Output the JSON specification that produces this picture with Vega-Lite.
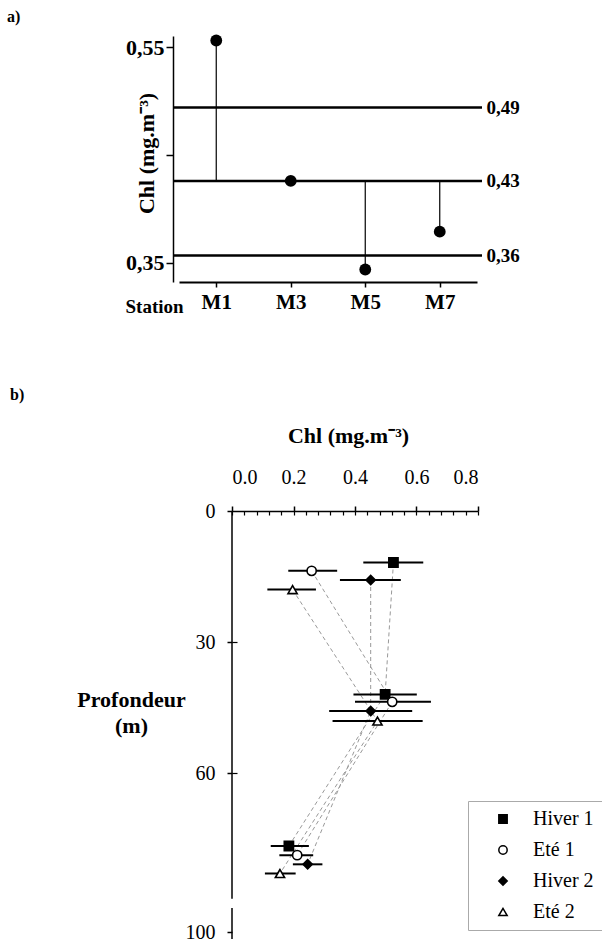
{
  "$schema": "https://vega.github.io/schema/vega-lite/v6.json",
  "padding": {"left": 7, "top": 8, "right": 0, "bottom": 0},
  "background": "white",
  "config": {
    "view": {"stroke": null},
    "font": "Liberation Serif",
    "axis": {"domainColor": "black", "tickColor": "black", "labelColor": "black", "titleColor": "black", "grid": false, "labelFont": "Liberation Serif", "titleFont": "Liberation Serif"},
    "title": {"font": "Liberation Serif", "color": "black"}
  },
  "datasets": {
    "levels": [
      {"level": "upper", "chl": 0.494},
      {"level": "mean", "chl": 0.426},
      {"level": "lower", "chl": 0.357}
    ],
    "stations": [
      {"station": "M1", "chl": 0.556},
      {"station": "M3", "chl": 0.426},
      {"station": "M5", "chl": 0.344},
      {"station": "M7", "chl": 0.379}
    ],
    "profiles": [
      {"series": "Hiver 1", "depth": 11.8, "chl": 0.525, "lo": 0.427, "hi": 0.622},
      {"series": "Hiver 1", "depth": 42.0, "chl": 0.498, "lo": 0.395, "hi": 0.601},
      {"series": "Hiver 1", "depth": 76.7, "chl": 0.185, "lo": 0.126, "hi": 0.250},
      {"series": "Eté 1", "depth": 13.7, "chl": 0.259, "lo": 0.183, "hi": 0.342},
      {"series": "Eté 1", "depth": 43.7, "chl": 0.521, "lo": 0.400, "hi": 0.647},
      {"series": "Eté 1", "depth": 78.8, "chl": 0.212, "lo": 0.154, "hi": 0.264},
      {"series": "Hiver 2", "depth": 15.8, "chl": 0.451, "lo": 0.351, "hi": 0.549},
      {"series": "Hiver 2", "depth": 45.8, "chl": 0.451, "lo": 0.316, "hi": 0.586},
      {"series": "Hiver 2", "depth": 80.9, "chl": 0.246, "lo": 0.198, "hi": 0.294},
      {"series": "Eté 2", "depth": 18.0, "chl": 0.197, "lo": 0.115, "hi": 0.273},
      {"series": "Eté 2", "depth": 48.1, "chl": 0.473, "lo": 0.327, "hi": 0.620},
      {"series": "Eté 2", "depth": 83.0, "chl": 0.156, "lo": 0.107, "hi": 0.207}
    ],
    "axisline": [
      {"from": 0, "to": 88.8},
      {"from": 90.9, "to": 98}
    ]
  },
  "bounds": "flush",
  "spacing": 229,
  "vconcat": [
    {
      "width": 309,
      "height": 246,
      "title": {"text": "a)", "anchor": "start", "frame": "group", "dx": -166, "offset": 10, "fontSize": 16, "fontWeight": "bold"},
      "resolve": {"axis": {"y": "independent"}},
      "layer": [
        {
          "data": {"name": "levels"},
          "mark": {"type": "rule", "color": "black", "strokeWidth": 2.5},
          "encoding": {
            "y": {"field": "chl", "type": "quantitative",
              "scale": {"domain": [0.3324, 0.5602], "nice": false, "zero": false},
              "axis": {"orient": "right", "values": [0.494, 0.426, 0.357], "labelExpr": "replace(format(datum.value, '.2f'), '.', ',')", "ticks": false, "domain": false, "labelPadding": 4, "labelFontSize": 19, "labelFontWeight": "bold", "title": null}}
          }
        },
        {
          "data": {"name": "stations"},
          "mark": {"type": "rule", "color": "black", "strokeWidth": 1.2},
          "encoding": {
            "x": {"field": "station", "type": "nominal", "scale": {"type": "point", "range": [6, 304], "padding": 0.5}},
            "y": {"field": "chl", "type": "quantitative", "scale": {"domain": [0.3324, 0.5602], "nice": false, "zero": false}, "axis": null},
            "y2": {"datum": 0.426}
          }
        },
        {
          "data": {"name": "stations"},
          "mark": {"type": "point", "filled": true, "color": "black", "size": 140, "opacity": 1},
          "encoding": {
            "x": {"field": "station", "type": "nominal", "scale": {"type": "point", "range": [6, 304], "padding": 0.5},
              "axis": {"orient": "bottom", "labelAngle": 0, "labelAlign": "center", "tickSize": 5, "tickWidth": 1.5, "domainWidth": 2, "labelFontSize": 21, "labelFontWeight": "bold", "labelPadding": 15, "title": "Station", "titleX": -48, "titleY": 24, "titleAlign": "left", "titleBaseline": "middle", "titleFontSize": 19, "titleFontWeight": "bold"}},
            "y": {"field": "chl", "type": "quantitative", "scale": {"domain": [0.3324, 0.5602], "nice": false, "zero": false},
              "axis": {"orient": "left", "values": [0.35, 0.45, 0.55], "labelExpr": "datum.value == 0.45 ? '' : replace(format(datum.value, '.2f'), '.', ',')", "tickSize": 7, "tickWidth": 1.5, "domainWidth": 1.5, "labelFontSize": 22, "labelFontWeight": "bold", "labelPadding": 2, "title": "Chl (mg.m⁻³)", "titleFontSize": 22, "titleFontWeight": "bold", "titleX": -27, "titleY": 117, "titleAngle": -90, "titleAlign": "center", "titleBaseline": "middle"}}
          }
        }
      ]
    },
    {
      "width": 305,
      "height": 428,
      "title": {"text": "b)", "anchor": "start", "frame": "group", "dx": -163, "offset": 21, "fontSize": 16, "fontWeight": "bold"},
      "resolve": {"axis": {"x": "independent", "y": "independent"}},
      "layer": [
        {
          "data": {"name": "axisline"},
          "mark": {"type": "rule", "color": "black", "strokeWidth": 1.5},
          "encoding": {
            "x": {"datum": 0, "type": "quantitative", "scale": {"domain": [0, 0.8], "range": [59, 305], "nice": false},
              "axis": {"orient": "top", "values": [0, 0.04, 0.08, 0.12, 0.16, 0.2, 0.24, 0.28, 0.32, 0.36, 0.4, 0.44, 0.48, 0.52, 0.56, 0.6, 0.64, 0.68, 0.72, 0.76, 0.8], "tickSize": -4, "tickWidth": 1.2, "labels": false, "domain": false, "title": null}},
            "y": {"field": "from", "type": "quantitative", "scale": {"domain": [0, 98], "reverse": true, "nice": false},
              "axis": {"orient": "left", "offset": -59, "values": [30, 60], "tickSize": -5, "tickWidth": 1.2, "labels": false, "domain": false, "title": null}},
            "y2": {"field": "to"}
          }
        },
        {
          "data": {"name": "profiles"},
          "mark": {"type": "line", "color": "#999", "strokeWidth": 1, "strokeDash": [4, 3]},
          "encoding": {
            "x": {"field": "chl", "type": "quantitative", "scale": {"domain": [0, 0.8], "range": [59, 305], "nice": false}, "axis": null},
            "y": {"field": "depth", "type": "quantitative", "scale": {"domain": [0, 98], "reverse": true, "nice": false}, "axis": null},
            "detail": {"field": "series", "type": "nominal"},
            "order": {"field": "depth", "type": "quantitative"}
          }
        },
        {
          "data": {"name": "profiles"},
          "mark": {"type": "rule", "color": "black", "strokeWidth": 2},
          "encoding": {
            "x": {"field": "lo", "type": "quantitative", "scale": {"domain": [0, 0.8], "range": [59, 305], "nice": false}, "axis": null},
            "x2": {"field": "hi"},
            "y": {"field": "depth", "type": "quantitative", "scale": {"domain": [0, 98], "reverse": true, "nice": false}, "axis": null}
          }
        },
        {
          "data": {"name": "profiles"},
          "mark": {"type": "point", "filled": true, "strokeWidth": 1.6, "size": 85, "opacity": 1},
          "encoding": {
            "x": {"field": "chl", "type": "quantitative", "scale": {"domain": [0, 0.8], "range": [59, 305], "nice": false},
              "axis": {"orient": "top", "values": [0, 0.2, 0.4, 0.6, 0.8], "format": ".1f", "tickSize": 5, "tickWidth": 1.5, "domainWidth": 1.5, "labelFontSize": 20, "labelPadding": 19, "title": "Chl (mg.m⁻³)", "titleFontSize": 22, "titleFontWeight": "bold", "titleX": 175, "titleY": -76, "titleAlign": "center", "titleBaseline": "middle"}},
            "y": {"field": "depth", "type": "quantitative", "scale": {"domain": [0, 98], "reverse": true, "nice": false},
              "axis": {"orient": "left", "offset": -59, "values": [0, 30, 60, 96.4], "labelExpr": "datum.value > 90 ? '100' : datum.label", "tickSize": 5, "tickWidth": 1.5, "domain": false, "labelFontSize": 20, "labelPadding": 12, "title": ["Profondeur", "(m)"], "titleAngle": 0, "titleX": -101, "titleY": 178, "titleAlign": "center", "titleBaseline": "top", "titleLineHeight": 26, "titleFontSize": 22, "titleFontWeight": "bold"}},
            "shape": {"field": "series", "type": "nominal",
              "scale": {"domain": ["Hiver 1", "Eté 1", "Hiver 2", "Eté 2"], "range": ["square", "circle", "diamond", "triangle-up"]},
              "legend": {"orient": "none", "legendX": 295, "legendY": 765, "title": null, "padding": 8, "symbolOffset": 17, "symbolSize": 70, "labelOffset": 20, "labelFontSize": 20, "labelFont": "Liberation Serif", "labelColor": "black", "rowPadding": 11, "strokeColor": "#aaa", "symbolStrokeWidth": 1.5}},
            "fill": {"field": "series", "type": "nominal",
              "scale": {"domain": ["Hiver 1", "Eté 1", "Hiver 2", "Eté 2"], "range": ["black", "white", "black", "white"]},
              "legend": {"orient": "none", "legendX": 295, "legendY": 765, "title": null, "padding": 8, "symbolOffset": 17, "symbolSize": 70, "labelOffset": 20, "labelFontSize": 20, "labelFont": "Liberation Serif", "labelColor": "black", "rowPadding": 11, "strokeColor": "#aaa", "symbolStrokeWidth": 1.5}},
            "stroke": {"field": "series", "type": "nominal",
              "scale": {"domain": ["Hiver 1", "Eté 1", "Hiver 2", "Eté 2"], "range": ["black", "black", "black", "black"]},
              "legend": {"orient": "none", "legendX": 295, "legendY": 765, "title": null, "padding": 8, "symbolOffset": 17, "symbolSize": 70, "labelOffset": 20, "labelFontSize": 20, "labelFont": "Liberation Serif", "labelColor": "black", "rowPadding": 11, "strokeColor": "#aaa", "symbolStrokeWidth": 1.5}}
          }
        }
      ]
    }
  ]
}
